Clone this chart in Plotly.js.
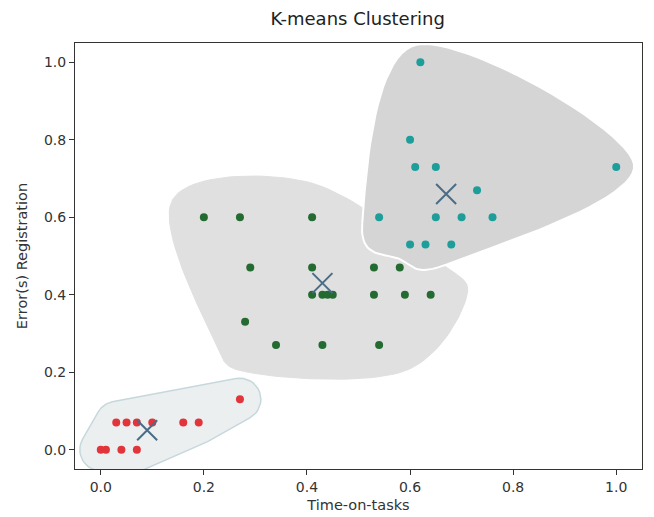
<!DOCTYPE html>
<html>
<head>
<meta charset="utf-8">
<script src="https://cdn.plot.ly/plotly-3.0.1.min.js"></script>
<style>html,body{margin:0;padding:0;background:#fff;}#chart{width:654px;height:517px;}</style>
</head>
<body>
<div id="chart"></div>
<script>
// ---- data ----
var redX   = [0.27, 0.03, 0.05, 0.07, 0.10, 0.16, 0.19, 0.00, 0.01, 0.04, 0.07];
var redY   = [0.13, 0.07, 0.07, 0.07, 0.07, 0.07, 0.07, 0.00, 0.00, 0.00, 0.00];
var greenX = [0.20, 0.27, 0.41, 0.29, 0.41, 0.53, 0.58, 0.41, 0.43, 0.44, 0.45, 0.53, 0.59, 0.64, 0.28, 0.34, 0.43, 0.54];
var greenY = [0.60, 0.60, 0.60, 0.47, 0.47, 0.47, 0.47, 0.40, 0.40, 0.40, 0.40, 0.40, 0.40, 0.40, 0.33, 0.27, 0.27, 0.27];
var cyanX  = [0.62, 0.60, 0.61, 0.65, 1.00, 0.73, 0.54, 0.65, 0.70, 0.76, 0.60, 0.63, 0.68];
var cyanY  = [1.00, 0.80, 0.73, 0.73, 0.73, 0.67, 0.60, 0.60, 0.60, 0.60, 0.53, 0.53, 0.53];
var centroidX = [0.09, 0.43, 0.67];
var centroidY = [0.05, 0.43, 0.66];
var xTicks = [0.0, 0.2, 0.4, 0.6, 0.8, 1.0];
var yTicks = [0.0, 0.2, 0.4, 0.6, 0.8, 1.0];
var xTickText = ['0.0', '0.2', '0.4', '0.6', '0.8', '1.0'];
var yTickText = ['0.0', '0.2', '0.4', '0.6', '0.8', '1.0'];

// ---- geometry helpers: smooth outlines around the convex hull of each cluster ----
var KX = 517, KY = 386; // approx pixels per data unit, so padding is even on screen
function convexHull(p) {
  p = p.slice().sort(function (a, b) { return a[0] - b[0] || a[1] - b[1]; });
  function cross(o, a, b) { return (a[0] - o[0]) * (b[1] - o[1]) - (a[1] - o[1]) * (b[0] - o[0]); }
  var lower = [], upper = [];
  for (var i = 0; i < p.length; i++) {
    while (lower.length >= 2 && cross(lower[lower.length - 2], lower[lower.length - 1], p[i]) <= 0) lower.pop();
    lower.push(p[i]);
  }
  for (var j = p.length - 1; j >= 0; j--) {
    while (upper.length >= 2 && cross(upper[upper.length - 2], upper[upper.length - 1], p[j]) <= 0) upper.pop();
    upper.push(p[j]);
  }
  upper.pop(); lower.pop();
  return lower.concat(upper); // CCW
}
function toPx(xs, ys) { return xs.map(function (x, i) { return [x * KX, ys[i] * KY]; }); }

// Catmull-Rom blob through radially padded hull vertices
function blob(xs, ys, pad) {
  var pts = toPx(xs, ys), cx = 0, cy = 0;
  pts.forEach(function (p) { cx += p[0]; cy += p[1]; });
  cx /= pts.length; cy /= pts.length;
  var h = convexHull(pts).map(function (p) {
    var dx = p[0] - cx, dy = p[1] - cy, d = Math.sqrt(dx * dx + dy * dy) || 1;
    return [p[0] + pad * dx / d, p[1] + pad * dy / d];
  });
  var n = h.length, ox = [], oy = [], steps = 24;
  for (var i = 0; i < n; i++) {
    var p0 = h[(i - 1 + n) % n], p1 = h[i], p2 = h[(i + 1) % n], p3 = h[(i + 2) % n];
    for (var s = 0; s < steps; s++) {
      var t = s / steps, t2 = t * t, t3 = t2 * t;
      var bx = 0.5 * ((2 * p1[0]) + (-p0[0] + p2[0]) * t + (2 * p0[0] - 5 * p1[0] + 4 * p2[0] - p3[0]) * t2 + (-p0[0] + 3 * p1[0] - 3 * p2[0] + p3[0]) * t3);
      var by = 0.5 * ((2 * p1[1]) + (-p0[1] + p2[1]) * t + (2 * p0[1] - 5 * p1[1] + 4 * p2[1] - p3[1]) * t2 + (-p0[1] + 3 * p1[1] - 3 * p2[1] + p3[1]) * t3);
      ox.push(bx / KX); oy.push(by / KY);
    }
  }
  ox.push(ox[0]); oy.push(oy[0]);
  return { x: ox, y: oy };
}
// convex hull grown by a disc (rounded hull)
function roundedHull(xs, ys, r) {
  var h = convexHull(toPx(xs, ys)), n = h.length, ox = [], oy = [];
  for (var i = 0; i < n; i++) {
    var prev = h[(i - 1 + n) % n], cur = h[i], next = h[(i + 1) % n];
    var d1 = [cur[0] - prev[0], cur[1] - prev[1]], d2 = [next[0] - cur[0], next[1] - cur[1]];
    var a0 = Math.atan2(-d1[0], d1[1]), a1 = Math.atan2(-d2[0], d2[1]);
    while (a1 < a0) a1 += 2 * Math.PI;
    for (var s = 0; s <= 16; s++) {
      var a = a0 + (a1 - a0) * s / 16;
      ox.push((cur[0] + r * Math.cos(a)) / KX);
      oy.push((cur[1] + r * Math.sin(a)) / KY);
    }
  }
  ox.push(ox[0]); oy.push(oy[0]);
  return { x: ox, y: oy };
}

var hr = roundedHull(redX, redY, 21);
var hg = blob(greenX, greenY, 36);
var hc = blob(cyanX, cyanY, 18);

var traces = [
  { x: hr.x, y: hr.y, mode: 'lines', fill: 'toself', fillcolor: '#eceff0', line: { color: '#c6d8dc', width: 1.5 }, hoverinfo: 'skip', showlegend: false },
  { x: hg.x, y: hg.y, mode: 'lines', fill: 'toself', fillcolor: '#e0e0e0', line: { color: '#e0e0e0', width: 1 }, hoverinfo: 'skip', showlegend: false },
  { x: hc.x, y: hc.y, mode: 'lines', fill: 'toself', fillcolor: '#d5d5d5', line: { color: '#ffffff', width: 2 }, hoverinfo: 'skip', showlegend: false },
  { x: redX, y: redY, mode: 'markers', marker: { color: '#e2353b', size: 8 }, showlegend: false },
  { x: greenX, y: greenY, mode: 'markers', marker: { color: '#236b30', size: 8 }, showlegend: false },
  { x: cyanX, y: cyanY, mode: 'markers', marker: { color: '#1e9e9b', size: 8 }, showlegend: false },
  { x: centroidX, y: centroidY, mode: 'markers', marker: { symbol: 'x-thin-open', size: 20, color: '#4a6c86', line: { width: 2, color: '#4a6c86' } }, showlegend: false }
];

var axisCommon = {
  showgrid: false, zeroline: false, showline: true, mirror: true,
  linecolor: '#333', linewidth: 1, ticks: 'outside', ticklen: 5, tickcolor: '#333',
  tickfont: { family: 'DejaVu Sans', size: 14, color: '#333' }
};

var layout = {
  width: 654, height: 517,
  margin: { l: 75, r: 12, t: 43, b: 48 },
  paper_bgcolor: '#fff', plot_bgcolor: '#fff',
  title: { text: 'K-means Clustering', font: { family: 'DejaVu Sans', size: 18, color: '#222' }, x: 0.547, xanchor: 'center', y: 0.963, yanchor: 'middle' },
  xaxis: Object.assign({}, axisCommon, {
    range: [-0.05, 1.05], tickvals: xTicks, ticktext: xTickText,
    title: { text: 'Time-on-tasks', font: { family: 'DejaVu Sans', size: 14.5, color: '#333' }, standoff: 6 }
  }),
  yaxis: Object.assign({}, axisCommon, {
    range: [-0.05, 1.05], tickvals: yTicks, ticktext: yTickText,
    title: { text: 'Error(s) Registration', font: { family: 'DejaVu Sans', size: 14.5, color: '#333' }, standoff: 12 }
  })
};

Plotly.newPlot('chart', traces, layout, { staticPlot: true, displayModeBar: false });
</script>
</body>
</html>
